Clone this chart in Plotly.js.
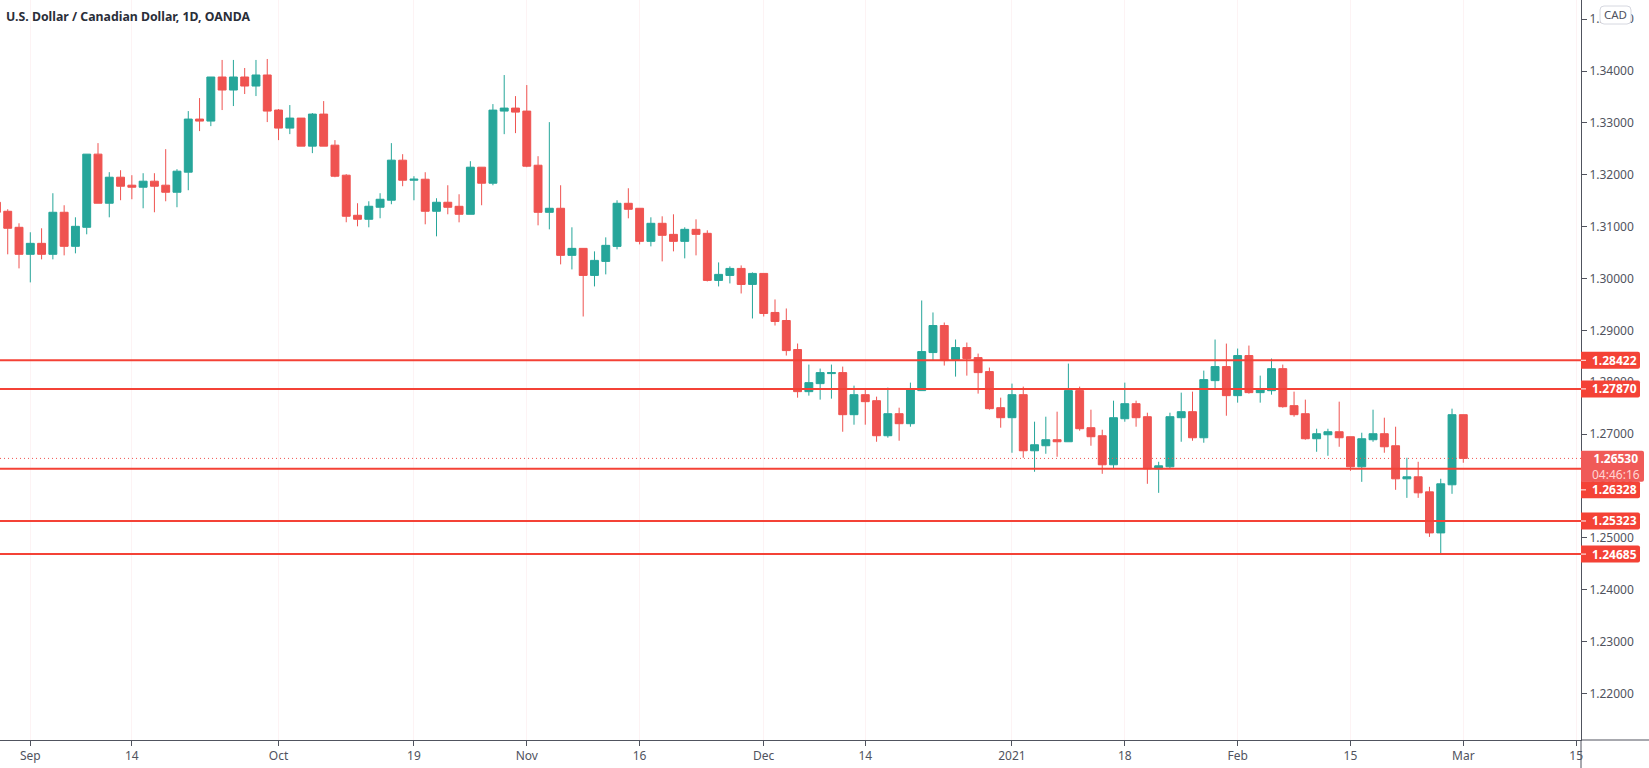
<!DOCTYPE html>
<html><head><meta charset="utf-8">
<script src="https://cdn.plot.ly/plotly-3.0.1.min.js"></script>
<style>html,body{margin:0;padding:0;background:#fff}#c{width:1649px;height:768px}</style></head>
<body><div id="c"></div>
<script>
const firstBar = -3;
const opens = [1.31469,1.31295,1.30986,1.30465,1.30677,1.30465,1.31276,1.30619,1.30986,1.32397,1.31450,1.31952,1.31798,1.31759,1.31875,1.31798,1.31662,1.32049,1.33073,1.33034,1.33884,1.33633,1.33884,1.33710,1.33923,1.33247,1.32899,1.33092,1.32551,1.33169,1.32570,1.31991,1.31218,1.31141,1.31373,1.31508,1.32280,1.31894,1.31913,1.31295,1.31469,1.31391,1.31237,1.32145,1.31836,1.33227,1.33285,1.33227,1.32183,1.31275,1.31353,1.30445,1.30580,1.30058,1.30329,1.30618,1.31449,1.31353,1.30715,1.31063,1.30850,1.30715,1.30947,1.30870,1.29962,1.30058,1.30193,1.29885,1.30097,1.29344,1.29189,1.28629,1.27817,1.27972,1.28165,1.28184,1.27373,1.27759,1.27643,1.26967,1.27392,1.27199,1.27837,1.28571,1.29092,1.28436,1.28667,1.28474,1.28204,1.27508,1.27315,1.27759,1.26677,1.26774,1.26890,1.26851,1.27837,1.27122,1.26967,1.26407,1.27295,1.27585,1.27334,1.26329,1.26368,1.27315,1.27431,1.26928,1.28030,1.28300,1.27740,1.28513,1.27798,1.27836,1.28261,1.27547,1.27392,1.26909,1.26986,1.27044,1.26948,1.26368,1.26890,1.27006,1.26774,1.26136,1.26175,1.25885,1.25093,1.26021,1.27373];
const highs = [1.31490,1.31334,1.31063,1.30890,1.30967,1.31643,1.31411,1.31179,1.32397,1.32609,1.32049,1.32087,1.31991,1.32029,1.32029,1.32493,1.32107,1.33227,1.33478,1.33884,1.34213,1.34213,1.34058,1.34213,1.34232,1.33266,1.33343,1.33092,1.33189,1.33420,1.32667,1.32010,1.31450,1.31488,1.31643,1.32609,1.32396,1.31971,1.32048,1.31546,1.31797,1.31623,1.32261,1.32145,1.33362,1.33922,1.33516,1.33729,1.32357,1.33014,1.31797,1.30986,1.30580,1.30522,1.30792,1.31507,1.31739,1.31353,1.31179,1.31198,1.31237,1.30986,1.31140,1.30928,1.30309,1.30232,1.30251,1.30116,1.30097,1.29595,1.29421,1.28745,1.28339,1.28262,1.28339,1.28300,1.27933,1.27875,1.27721,1.27895,1.27508,1.27991,1.29575,1.29344,1.29150,1.28822,1.28764,1.28551,1.28281,1.27701,1.27972,1.27914,1.27238,1.27334,1.27431,1.28358,1.27914,1.27469,1.27083,1.27643,1.27991,1.27643,1.27411,1.26465,1.27411,1.27798,1.27817,1.28223,1.28822,1.28744,1.28648,1.28706,1.28126,1.28455,1.28339,1.27817,1.27663,1.27102,1.27102,1.27624,1.26948,1.27025,1.27469,1.27315,1.27141,1.26542,1.26465,1.25982,1.26137,1.27489,1.27373];
const lows = [1.31200,1.30465,1.30194,1.29924,1.30368,1.30368,1.30445,1.30484,1.30851,1.31450,1.31179,1.31508,1.31527,1.31353,1.31276,1.31488,1.31373,1.31701,1.32841,1.32937,1.33247,1.33324,1.33556,1.33517,1.33015,1.32667,1.32783,1.32551,1.32416,1.32551,1.31952,1.31083,1.31005,1.30986,1.31160,1.31431,1.31778,1.31507,1.31044,1.30812,1.31237,1.31082,1.31237,1.31411,1.31797,1.32782,1.32802,1.32145,1.31024,1.30947,1.30271,1.30174,1.29266,1.29846,1.30078,1.30561,1.31159,1.30657,1.30618,1.30329,1.30522,1.30387,1.30445,1.29942,1.29846,1.29904,1.29710,1.29228,1.29266,1.29092,1.28513,1.27701,1.27740,1.27663,1.27682,1.27044,1.27180,1.27180,1.26851,1.26929,1.26871,1.27141,1.27837,1.28416,1.28320,1.28107,1.28126,1.27779,1.27470,1.27122,1.26639,1.26542,1.26272,1.26619,1.26561,1.26851,1.27064,1.26774,1.26233,1.26330,1.27237,1.27141,1.26040,1.25866,1.26329,1.26851,1.26870,1.26832,1.27856,1.27353,1.27605,1.27778,1.27605,1.27759,1.27508,1.27334,1.26890,1.26658,1.26581,1.26754,1.26291,1.26078,1.26851,1.26639,1.25924,1.25769,1.25769,1.25016,1.24688,1.25847,1.26446];
const closes = [1.31276,1.30967,1.30465,1.30677,1.30465,1.31276,1.30619,1.31005,1.32397,1.31450,1.31952,1.31778,1.31759,1.31875,1.31778,1.31662,1.32068,1.33073,1.33034,1.33884,1.33633,1.33884,1.33710,1.33923,1.33227,1.32899,1.33092,1.32551,1.33169,1.32551,1.31971,1.31199,1.31141,1.31392,1.31527,1.32281,1.31894,1.31913,1.31295,1.31469,1.31372,1.31237,1.32145,1.31836,1.33246,1.33285,1.33207,1.32164,1.31275,1.31353,1.30445,1.30580,1.30058,1.30348,1.30638,1.31449,1.31333,1.30715,1.31063,1.30831,1.30715,1.30947,1.30850,1.29962,1.30078,1.30193,1.29884,1.30097,1.29324,1.29170,1.28609,1.27817,1.27991,1.28184,1.28184,1.27373,1.27759,1.27624,1.26967,1.27392,1.27199,1.27856,1.28590,1.29092,1.28416,1.28667,1.28455,1.28184,1.27489,1.27315,1.27759,1.26677,1.26793,1.26890,1.26851,1.27837,1.27102,1.26948,1.26407,1.27315,1.27585,1.27315,1.26329,1.26387,1.27334,1.27431,1.26928,1.28049,1.28300,1.27740,1.28513,1.27798,1.27856,1.28261,1.27527,1.27373,1.26909,1.27006,1.27044,1.26928,1.26368,1.26909,1.27006,1.26754,1.26136,1.26175,1.25866,1.25093,1.26040,1.27373,1.26530];
const tickBars = [0,9,22,34,44,54,65,74,87,97,107,117,127,137];
const tickLabels = ["Sep","14","Oct","19","Nov","16","Dec","14","2021","18","Feb","15","Mar","15"];
const levels = [1.28422,1.27870,1.26328,1.25323,1.24685];
const lastPrice = 1.26530;
const countdown = "04:46:16";
const chartTitle = "U.S. Dollar / Canadian Dollar, 1D, OANDA";
const currency = "CAD";

const RED = "#ef5350", TEAL = "#26a69a", LINE = "#f44236", AXIS = "#50535e";
const FONT = "'Noto Sans', sans-serif";
const bars = opens.map((_, i) => firstBar + i);

function roundRect(x0, x1, y0, y1, r) {
  return "M"+(x0)+","+y0+" L"+(x1-r)+","+y0+" Q"+x1+","+y0+" "+x1+","+(y0+r)+" L"+x1+","+(y1-r)+" Q"+x1+","+y1+" "+(x1-r)+","+y1+" L"+x0+","+y1+" Z";
}
function labelRect(price, dy0, dy1, w, color) {
  return {type:"path", layer:"above", xref:"paper", xsizemode:"pixel", xanchor:1,
          yref:"y", ysizemode:"pixel", yanchor:price, path:roundRect(0,w,dy0,dy1,2), fillcolor:color, line:{width:0}};
}
function labelTick(price, dy) {
  return {type:"line", layer:"above", xref:"paper", xsizemode:"pixel", xanchor:1, x0:0, x1:5,
          yref:"y", ysizemode:"pixel", yanchor:price, y0:dy, y1:dy, line:{color:"#ffffff", width:1}};
}
const shifts = {1.26328:-21};
const shapes = [];
levels.forEach(p => shapes.push({type:"line", layer:"above", xref:"paper", x0:0, x1:1, yref:"y", y0:p, y1:p, line:{color:LINE, width:2}}));
shapes.push({type:"line", layer:"above", xref:"paper", x0:0, x1:1, yref:"y", y0:lastPrice, y1:lastPrice, line:{color:RED, width:1, dash:"1px,3px"}});
shapes.push({type:"line", layer:"above", xref:"paper", x0:1, x1:1, yref:"paper", y0:0, y1:-28/740, line:{color:AXIS, width:1}});
shapes.push({type:"line", layer:"above", xref:"paper", x0:1, x1:1+68/1581, yref:"paper", y0:0, y1:0, line:{color:AXIS, width:1}});
levels.forEach(p => { const s = shifts[p]||0;
  shapes.push(labelRect(p, s-8.5, s+8.5, 59, LINE));
  shapes.push(labelTick(p, s));
});
shapes.push(labelRect(lastPrice, -23.4, 7.6, 63, "#f05a58"));
shapes.push({type:"path", layer:"above", xref:"paper", xsizemode:"pixel", xanchor:1, yref:"paper", ysizemode:"pixel", yanchor:1,
  path:"M23,-6 L46,-6 Q50,-6 50,-10 L50,-20 Q50,-24 46,-24 L23,-24 Q19,-24 19,-20 L19,-10 Q19,-6 23,-6 Z", fillcolor:"#ffffff", line:{color:"#d6d8e0", width:1}});

const annotations = levels.map(p => ({xref:"paper", x:1, xanchor:"left", xshift:9, yref:"y", y:p, yshift:shifts[p]||0, yanchor:"middle",
   text:"<b>"+p.toFixed(5)+"</b>", showarrow:false, font:{family:FONT,size:12,color:"#fff"}}));
annotations.push({xref:"paper", x:1, xanchor:"left", xshift:9, yref:"y", y:lastPrice, yanchor:"middle", yshift:-8, align:"center",
   text:"<b>"+lastPrice.toFixed(5)+"</b><br><span style='color:#ffd5d3'>"+countdown+"</span>", showarrow:false, font:{family:FONT,size:12,color:"#fff"}});
annotations.push({xref:"paper", yref:"paper", x:0, y:1, xanchor:"left", yanchor:"top", xshift:5, yshift:-7, text:"<b>"+chartTitle+"</b>", showarrow:false, font:{family:FONT,size:12.3,color:"#2a2e39"}, borderpad:0});
annotations.push({xref:"paper", yref:"paper", x:1, y:1, xanchor:"center", yanchor:"middle", xshift:34.5, yshift:-14.5, text:currency, showarrow:false, font:{family:FONT,size:11.5,color:"#50535e"}, borderpad:0});

Plotly.newPlot("c", [{
  type:"candlestick", x:bars, open:opens, high:highs, low:lows, close:closes,
  whiskerwidth:0,
  increasing:{line:{color:TEAL,width:1}, fillcolor:TEAL},
  decreasing:{line:{color:RED,width:1}, fillcolor:RED},
  showlegend:false, hoverinfo:"skip"
}], {
  width:1649, height:768, paper_bgcolor:"#fff", plot_bgcolor:"#fff",
  margin:{l:0,r:68,t:0,b:28}, showlegend:false, boxgap:0,
  font:{family:FONT,size:12,color:AXIS},
  xaxis:{type:"linear", range:[-2.685,137.43], rangeslider:{visible:false}, tickmode:"array", tickvals:tickBars, ticktext:tickLabels,
    showgrid:true, gridcolor:"#fdf3f4", gridwidth:1, zeroline:false, showline:true, linecolor:AXIS, linewidth:1, ticks:"outside", ticklen:5, tickcolor:AXIS, tickfont:{family:FONT,size:12,color:AXIS}},
  yaxis:{side:"right", range:[1.21100,1.35369], tickmode:"linear", tick0:1.22, dtick:0.01, tickformat:".5f", showgrid:false, zeroline:false, showline:true, linecolor:AXIS, linewidth:1, ticks:"outside", ticklen:5, tickcolor:AXIS, tickfont:{family:FONT,size:12,color:AXIS}},
  shapes, annotations
}, {displayModeBar:false, staticPlot:true});
</script></body></html>
